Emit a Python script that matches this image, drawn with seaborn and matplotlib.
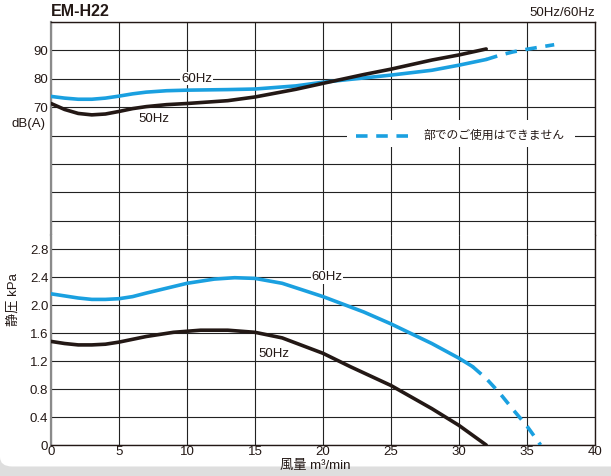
import numpy as np
import pandas as pd
import seaborn as sns
import matplotlib.pyplot as plt
from matplotlib.patches import FancyBboxPatch, Rectangle

# noise level dB(A)
db60_x = [0, 1, 2, 3, 4, 5, 6, 7, 8.5, 10, 13, 15, 18, 20, 23, 25, 28, 30, 32]
db60_y = [73.8, 73.2, 72.8, 72.8, 73.2, 73.9, 74.7, 75.3, 75.8, 76.0, 76.2, 76.4, 77.5, 78.8, 80.3, 81.3, 83.0, 84.8, 86.8]
db60d_x = [32, 33, 34, 35, 36, 37]
db60d_y = [86.8, 88.3, 89.5, 90.4, 91.2, 92.0]
db50_x = [0, 1, 2, 3, 4, 5, 6, 7, 8.5, 10, 13, 15, 18, 20, 23, 25, 28, 30, 32]
db50_y = [71.3, 69.2, 67.8, 67.3, 67.6, 68.5, 69.5, 70.2, 70.9, 71.3, 72.3, 73.6, 76.3, 78.4, 81.5, 83.4, 86.6, 88.4, 90.5]

# static pressure kPa
p60_x = [0, 1, 2, 3, 4, 5, 6, 7, 8.5, 10, 12, 13.5, 15, 17, 20, 23, 25, 28, 30, 31]
p60_y = [2.16, 2.13, 2.10, 2.08, 2.08, 2.09, 2.12, 2.17, 2.24, 2.31, 2.37, 2.39, 2.38, 2.31, 2.12, 1.90, 1.73, 1.45, 1.24, 1.12]
p60d_x = [31, 32, 33, 34, 35, 36]
p60d_y = [1.12, 0.95, 0.74, 0.50, 0.27, 0.0]
p50_x = [0, 1, 2, 3, 4, 5, 6, 7, 8, 9, 11, 13, 15, 17, 20, 22, 25, 28, 30, 32]
p50_y = [1.48, 1.45, 1.43, 1.43, 1.44, 1.47, 1.51, 1.55, 1.58, 1.61, 1.64, 1.64, 1.61, 1.53, 1.31, 1.12, 0.85, 0.52, 0.28, 0.0]

x_ticks = [0, 5, 10, 15, 20, 25, 30, 35, 40]
db_ticks = [30, 40, 50, 60, 70, 80, 90, 100]
db_labels = ["", "", "", "", "70", "80", "90", ""]
p_ticks = [0, 0.4, 0.8, 1.2, 1.6, 2.0, 2.4, 2.8]
p_labels = ["0", "0.4", "0.8", "1.2", "1.6", "2.0", "2.4", "2.8"]

BLUE = "#1aa0e0"
BLACK = "#231815"

sns.set_style("white")
plt.rcParams["font.family"] = ["Liberation Sans", "Noto Sans CJK JP", "DejaVu Sans"]

fig = plt.figure(figsize=(6.11, 4.76), dpi=100)
fig.patches.append(Rectangle((0, 0), 1, 1, transform=fig.transFigure,
                             facecolor="#dedede", edgecolor="none", zorder=-3))
fig.patches.append(FancyBboxPatch((0.01, 0.03), 1.2, 1.2, transform=fig.transFigure,
                                  boxstyle="round,pad=0.01,rounding_size=0.02",
                                  facecolor="white", edgecolor="none", zorder=-2))

ax_db = fig.add_axes([0.0835, 0.5063, 0.8903, 0.4475])
ax_p = fig.add_axes([0.0835, 0.0651, 0.8903, 0.4412])


def curve(ax, xs, ys, color, dashed=False):
    df = pd.DataFrame({"x": xs, "y": ys})
    sns.lineplot(data=df, x="x", y="y", ax=ax, color=color, lw=2.6,
                 sort=False, estimator=None, zorder=3,
                 linestyle=(0, (3.2, 2.4)) if dashed else "-")


curve(ax_db, db60_x, db60_y, BLUE)
curve(ax_db, db60d_x, db60d_y, BLUE, dashed=True)
curve(ax_db, db50_x, db50_y, BLACK)
curve(ax_p, p60_x, p60_y, BLUE)
curve(ax_p, p60d_x, p60d_y, BLUE, dashed=True)
curve(ax_p, p50_x, p50_y, BLACK)

for ax in (ax_db, ax_p):
    ax.set_xlim(0, 40)
    ax.set_xticks(x_ticks)
    ax.grid(True, color="#222222", lw=0.8)
    ax.tick_params(length=0, labelsize=9.5, colors="#231815", pad=2)
    ax.set_xlabel("")
    ax.set_ylabel("")
    for s in ax.spines.values():
        s.set_color("#231815")
        s.set_linewidth(1.0)
    ax.spines["left"].set_color("#8a8a8a")
    ax.spines["left"].set_linewidth(1.6)

ax_db.set_ylim(25, 100)
ax_db.set_yticks(db_ticks)
ax_db.set_yticklabels(db_labels)
ax_db.set_xticklabels([])
ax_db.spines["bottom"].set_visible(False)

ax_p.set_ylim(0, 3.0)
ax_p.set_yticks(p_ticks)
ax_p.set_yticklabels(p_labels)
ax_p.set_xticklabels([str(t) for t in x_ticks])
ax_p.spines["top"].set_visible(False)
ax_p.tick_params(axis="x", pad=1)

lab = dict(fontsize=9.5, color=BLACK, ha="center", va="center", zorder=4,
           bbox=dict(facecolor="white", edgecolor="none", pad=0.5))
ax_db.text(10.7, 80, "60Hz", **lab)
ax_db.text(7.6, 66, "50Hz", **dict(lab, bbox=None))
ax_p.text(20.3, 2.4, "60Hz", **lab)
ax_p.text(16.4, 1.3, "50Hz", **dict(lab, bbox=None))

# legend for the dashed part, on a white patch that hides the grid
ax_db.add_patch(Rectangle((21.8, 56.0), 16.7, 9.4, facecolor="white",
                          edgecolor="none", zorder=3.5))
ax_db.text(32.6, 60, "部でのご使用はできません", fontsize=8.5, color=BLACK,
           ha="center", va="center", zorder=4)
sns.lineplot(x=[22.4, 26.8], y=[60, 60], ax=ax_db, color=BLUE, lw=2.6,
             linestyle=(0, (3.2, 2.4)), zorder=4)

fig.text(0.0835, 0.975, "EM-H22", fontsize=11.5, fontweight="bold", color=BLACK,
         ha="left", va="center")
fig.text(0.9738, 0.972, "50Hz/60Hz", fontsize=9.5, color=BLACK, ha="right", va="center")
fig.text(0.075, 0.74, "dB(A)", fontsize=9.5, color=BLACK, ha="right", va="center")
fig.text(0.022, 0.37, "静圧 kPa", fontsize=9.5, color=BLACK, ha="center", va="center",
         rotation=90)
fig.text(0.516, 0.022, "風量 m³/min", fontsize=9.5, color=BLACK, ha="center", va="center")

fig.savefig("out.png", dpi=100)
